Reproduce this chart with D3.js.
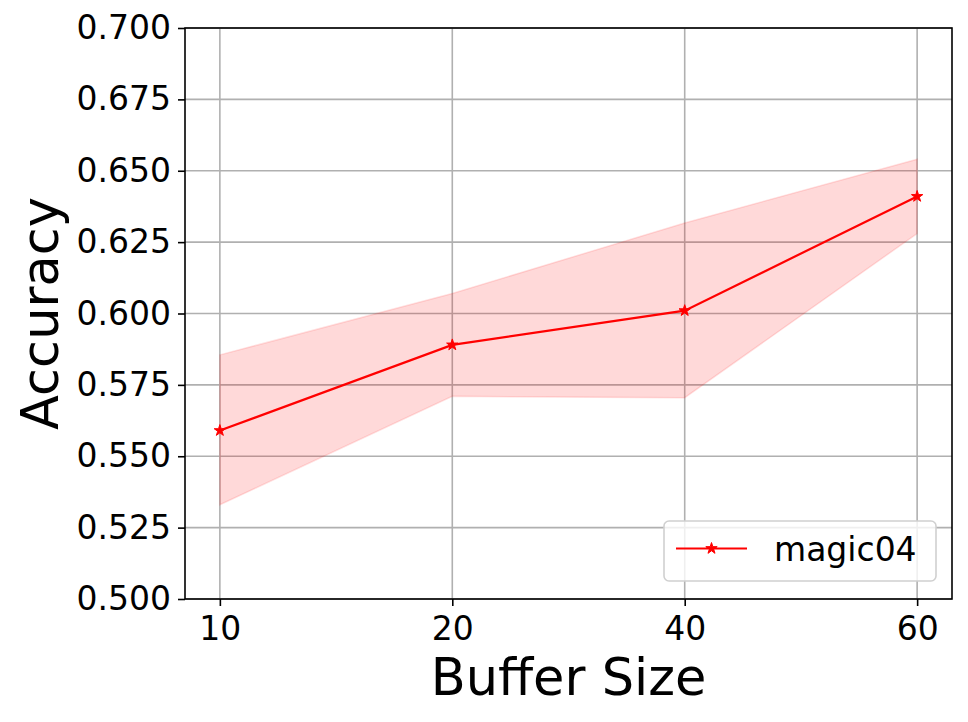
<!DOCTYPE html>
<html>
<head>
<meta charset="utf-8">
<script src="https://cdn.jsdelivr.net/npm/d3@7"></script>
<style>
  body { margin: 0; background: #fff; }
  text { font-family: "DejaVu Sans", sans-serif; }
</style>
</head>
<body>
<div id="chart"></div>
<script>
var categories = ["10", "20", "40", "60"]
var meanValues = [0.559, 0.589, 0.601, 0.641]
var upperValues = [0.5855, 0.607, 0.6317, 0.654]
var lowerValues = [0.533, 0.571, 0.5705, 0.628]
var yTicks = [0.5, 0.525, 0.55, 0.575, 0.6, 0.625, 0.65, 0.675, 0.7]
var seriesName = "magic04"

var width = 968, height = 722
var plotLeft = 185, plotRight = 952, plotTop = 28, plotBottom = 599

var svg = d3.select("#chart").append("svg")
    .attr("width", width)
    .attr("height", height)

var x = d3.scalePoint()
    .domain(categories)
    .range([plotLeft, plotRight])
    .padding(0.15)

var y = d3.scaleLinear()
    .domain([0.5, 0.7])
    .range([plotBottom, plotTop])

var data = categories.map(function(c, i) {
  return {cat: c, mean: meanValues[i], hi: upperValues[i], lo: lowerValues[i]}
})

// grid
svg.append("g").selectAll("line")
  .data(yTicks)
  .enter().append("line")
    .attr("x1", plotLeft).attr("x2", plotRight)
    .attr("y1", function(d) { return y(d) }).attr("y2", function(d) { return y(d) })
    .attr("stroke", "#b0b0b0").attr("stroke-width", 1.6)
svg.append("g").selectAll("line")
  .data(categories)
  .enter().append("line")
    .attr("x1", function(d) { return x(d) }).attr("x2", function(d) { return x(d) })
    .attr("y1", plotTop).attr("y2", plotBottom)
    .attr("stroke", "#b0b0b0").attr("stroke-width", 1.6)

// band
var area = d3.area()
    .x(function(d) { return x(d.cat) })
    .y0(function(d) { return y(d.lo) })
    .y1(function(d) { return y(d.hi) })
svg.append("path")
    .datum(data)
    .attr("d", area)
    .attr("fill", "red")
    .attr("fill-opacity", 0.15)
    .attr("stroke", "red")
    .attr("stroke-opacity", 0.12)
    .attr("stroke-width", 1.5)

// line
var line = d3.line()
    .x(function(d) { return x(d.cat) })
    .y(function(d) { return y(d.mean) })
svg.append("path")
    .datum(data)
    .attr("d", line)
    .attr("fill", "none")
    .attr("stroke", "red")
    .attr("stroke-width", 2.2)

var star = d3.symbol().type(d3.symbolStar).size(40)
svg.append("g").selectAll("path")
  .data(data)
  .enter().append("path")
    .attr("d", star)
    .attr("transform", function(d) { return "translate(" + x(d.cat) + "," + y(d.mean) + ")" })
    .attr("fill", "red")
    .attr("stroke", "red")
    .attr("stroke-width", 1)

// axes
var yAxis = d3.axisLeft(y)
    .tickValues(yTicks)
    .tickFormat(d3.format(".3f"))
    .tickSizeOuter(0)
    .tickSize(7)
    .tickPadding(7)
var gy = svg.append("g")
    .attr("transform", "translate(" + plotLeft + ",0)")
    .call(yAxis)
gy.select(".domain").remove()
gy.selectAll("line").attr("stroke", "#000").attr("stroke-width", 1.6)
gy.selectAll("text").attr("fill", "#000")
    .style("font-size", "33px")
    .style("font-family", "DejaVu Sans")

var xAxis = d3.axisBottom(x)
    .tickSizeOuter(0)
    .tickSize(7)
    .tickPadding(11)
var gx = svg.append("g")
    .attr("transform", "translate(0," + plotBottom + ")")
    .call(xAxis)
gx.select(".domain").remove()
gx.selectAll("line").attr("stroke", "#000").attr("stroke-width", 1.6)
gx.selectAll("text").attr("fill", "#000")
    .style("font-size", "33px")
    .style("font-family", "DejaVu Sans")

// frame
svg.append("rect")
    .attr("x", plotLeft).attr("y", plotTop)
    .attr("width", plotRight - plotLeft).attr("height", plotBottom - plotTop)
    .attr("fill", "none")
    .attr("stroke", "#000")
    .attr("stroke-width", 1.6)

// labels
svg.append("text")
    .attr("x", (plotLeft + plotRight) / 2)
    .attr("y", 695)
    .attr("text-anchor", "middle")
    .style("font-size", "51px")
    .text("Buffer Size")
svg.append("text")
    .attr("transform", "translate(58," + (plotTop + plotBottom) / 2 + ") rotate(-90)")
    .attr("text-anchor", "middle")
    .style("font-size", "51px")
    .text("Accuracy")

// legend
var lg = svg.append("g").attr("transform", "translate(664,521)")
lg.append("rect")
    .attr("width", 272).attr("height", 60)
    .attr("rx", 5)
    .attr("fill", "#fff").attr("fill-opacity", 0.8)
    .attr("stroke", "#d0d0d0").attr("stroke-width", 1.6)
lg.append("line")
    .attr("x1", 12).attr("x2", 83).attr("y1", 27.5).attr("y2", 27.5)
    .attr("stroke", "red").attr("stroke-width", 2.2)
lg.append("path")
    .attr("d", star)
    .attr("transform", "translate(47.5,27.5)")
    .attr("fill", "red").attr("stroke", "red")
lg.append("text")
    .attr("x", 110).attr("y", 40)
    .style("font-size", "33px")
    .text(seriesName)
</script>
</body>
</html>
